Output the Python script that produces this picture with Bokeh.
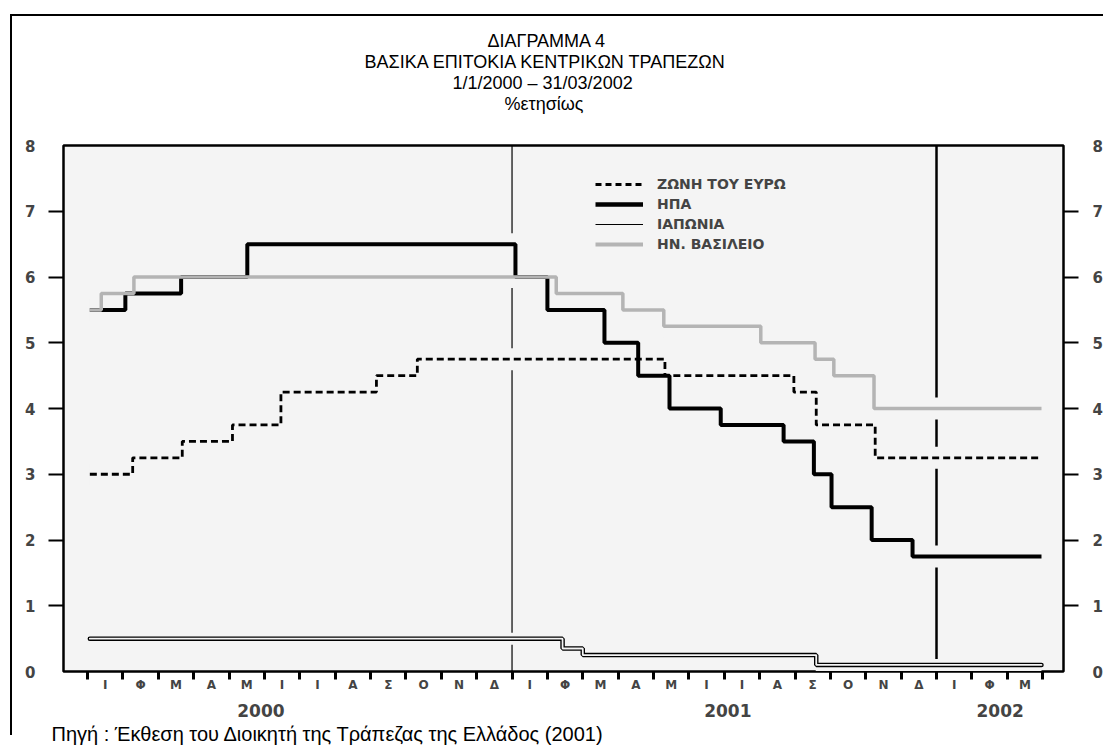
import calendar

from bokeh.plotting import figure
from bokeh.models import (Range1d, LinearAxis, FixedTicker, Span, Title,
                          Legend, LegendItem, GlobalInlineStyleSheet)
from bokeh.embed import file_html
from bokeh.resources import INLINE

# ---------------- data (policy rates, % per year) ----------------
euro_dates = ["2000-01-03", "2000-02-09", "2000-03-22", "2000-05-04", "2000-06-15",
              "2000-09-06", "2000-10-11", "2001-05-11", "2001-08-31", "2001-09-19",
              "2001-11-09", "2002-03-31"]
euro_rates = [3.00, 3.25, 3.50, 3.75, 4.25, 4.50, 4.75, 4.50, 4.25, 3.75, 3.25, 3.25]

us_dates = ["2000-01-03", "2000-02-03", "2000-03-21", "2000-05-17", "2001-01-04",
            "2001-02-01", "2001-03-20", "2001-04-18", "2001-05-15", "2001-06-28",
            "2001-08-22", "2001-09-17", "2001-10-02", "2001-11-06", "2001-12-11",
            "2002-03-31"]
us_rates = [5.50, 5.75, 6.00, 6.50, 6.00, 5.50, 5.00, 4.50, 4.00, 3.75,
            3.50, 3.00, 2.50, 2.00, 1.75, 1.75]

japan_dates = ["2000-01-03", "2001-02-13", "2001-03-01", "2001-09-19", "2002-03-31"]
japan_rates = [0.50, 0.35, 0.25, 0.10, 0.10]

uk_dates = ["2000-01-03", "2000-01-13", "2000-02-10", "2001-02-08", "2001-04-05",
            "2001-05-10", "2001-08-02", "2001-09-18", "2001-10-04", "2001-11-08",
            "2002-03-31"]
uk_rates = [5.50, 5.75, 6.00, 5.75, 5.50, 5.25, 5.00, 4.75, 4.50, 4.00, 4.00]

series_labels = ["ΖΩΝΗ ΤΟΥ ΕΥΡΩ", "ΗΠΑ", "ΙΑΠΩΝΙΑ", "ΗΝ. ΒΑΣΙΛΕΙΟ"]

month_letters = ["Ι", "Φ", "Μ", "Α", "Μ", "Ι", "Ι", "Α", "Σ", "Ο", "Ν", "Δ",
                 "Ι", "Φ", "Μ", "Α", "Μ", "Ι", "Ι", "Α", "Σ", "Ο", "Ν", "Δ",
                 "Ι", "Φ", "Μ"]
year_labels = ["2000", "2001", "2002"]
year_label_month = [4.9, 18.1, 25.8]       # month position under which each year is written
marker_dates = ["2001-01-01", "2002-01-01"]  # vertical year separators

y_ticks = [0, 1, 2, 3, 4, 5, 6, 7, 8]

title_lines = ["ΔΙΑΓΡΑΜΜΑ 4", "ΒΑΣΙΚΑ ΕΠΙΤΟΚΙΑ ΚΕΝΤΡΙΚΩΝ ΤΡΑΠΕΖΩΝ",
               "1/1/2000 – 31/03/2002", "%ετησίως"]
title_offsets = [424, 301, 389, 441]   # left-aligned offsets that centre each line
source_text = "Πηγή : Έκθεση του Διοικητή της Τράπεζας της Ελλάδος (2001)"


def month_index(s):
    """months elapsed since 1 Jan 2000 (fractional)."""
    y, m, d = (int(v) for v in s.split("-"))
    ndays = calendar.monthrange(y, m)[1]
    return (y - 2000) * 12 + (m - 1) + (d - 1) / ndays


BG = "#f4f4f4"
GREY = "#b4b4b4"
BOLD_FONT = "DejaVu Sans"
PLAIN_FONT = "Liberation Sans"
NAN = float("nan")

page_css = GlobalInlineStyleSheet(css="""
html, body { overflow: hidden; }
body::after { content: ''; position: absolute; left: 10px; top: 14px;
  width: calc(100% - 10px); height: 721px; box-sizing: border-box;
  border-left: 2px solid #000; border-top: 2px solid #000;
  pointer-events: none; z-index: 10; }
""")

p = figure(frame_width=1000, frame_height=526,
           x_range=Range1d(-0.68, 27.59), y_range=Range1d(0, 8),
           output_backend="svg", toolbar_location=None,
           x_axis_location=None, y_axis_location=None,
           min_border_left=63, min_border_right=40,
           min_border_top=145, min_border_bottom=70,
           background_fill_color=BG, border_fill_color="white",
           outline_line_color="black", outline_line_width=2.5)
p.xgrid.visible = False
p.ygrid.visible = False
p.stylesheets = [page_css]

# ---- vertical year separators (under the series) ----
p.add_layout(Span(location=month_index(marker_dates[0]), dimension="height",
                  line_color="black", line_width=1.2, level="underlay"))
p.add_layout(Span(location=month_index(marker_dates[1]), dimension="height",
                  line_color="black", line_width=2.5, level="underlay"))

ex = [month_index(d) for d in euro_dates]
ux = [month_index(d) for d in us_dates]
kx = [month_index(d) for d in uk_dates]
jx = [month_index(d) for d in japan_dates]

euro_style = dict(line_color="black", line_width=2.8, line_dash="7 4")
us_style = dict(line_color="black", line_width=4)
uk_style = dict(line_color=GREY, line_width=3.5)

# halos (the separators are interrupted where a series crosses them)
for sx, sy in ((ex, euro_rates), (ux, us_rates), (kx, uk_rates)):
    p.step(sx, sy, mode="after", line_color=BG, line_width=22)
p.step(jx, japan_rates, mode="after", line_color=BG, line_width=12)

# series
p.step(jx, japan_rates, mode="after", line_color="black", line_width=4.5, line_cap="round")
p.step(jx, japan_rates, mode="after", line_color=BG, line_width=1.8, line_cap="round")
p.step(ux, us_rates, mode="after", **us_style)
p.step(kx, uk_rates, mode="after", **uk_style)
p.step(ex, euro_rates, mode="after", **euro_style)

# legend swatches (no visible data)
lg_e = p.line([NAN], [NAN], line_color="black", line_width=3, line_dash="6 4")
lg_u = p.line([NAN], [NAN], line_color="black", line_width=4.5)
lg_j = p.line([NAN], [NAN], line_color="black", line_width=1)
lg_k = p.line([NAN], [NAN], line_color=GREY, line_width=4)
legend = Legend(items=[LegendItem(label=series_labels[0], renderers=[lg_e]),
                       LegendItem(label=series_labels[1], renderers=[lg_u]),
                       LegendItem(label=series_labels[2], renderers=[lg_j]),
                       LegendItem(label=series_labels[3], renderers=[lg_k])],
                location=(532, 417), padding=0, margin=0, spacing=0,
                glyph_width=48, glyph_height=20, label_height=20, label_standoff=14,
                label_text_font=BOLD_FONT, label_text_font_style="bold",
                label_text_font_size="14px", border_line_color=None,
                background_fill_alpha=0)
p.add_layout(legend)

# ---- axes ----
def hidden_labels(ticks):
    return {float(t): "" for t in ticks}

inner_ticks = y_ticks[1:-1]
for side, standoff in (("left", 7), ("right", 8)):
    ax = LinearAxis(ticker=FixedTicker(ticks=inner_ticks), major_tick_out=15, major_tick_in=0,
                    major_tick_line_width=2, minor_tick_line_color=None, axis_line_color=None,
                    major_label_overrides=hidden_labels(inner_ticks),
                    major_label_text_font_size="0px", major_label_standoff=0)
    p.add_layout(ax, side)
    ax = LinearAxis(ticker=FixedTicker(ticks=y_ticks), major_tick_line_color=None,
                    minor_tick_line_color=None, axis_line_color=None,
                    major_label_standoff=standoff,
                    major_label_text_font=BOLD_FONT, major_label_text_font_style="bold",
                    major_label_text_font_size="15px")
    p.add_layout(ax, side)

month_ticks = list(range(len(month_letters) + 1))
ax = LinearAxis(ticker=FixedTicker(ticks=month_ticks), major_tick_out=8, major_tick_in=0,
                major_tick_line_width=3, minor_tick_line_color=None, axis_line_color=None,
                major_label_overrides=hidden_labels(month_ticks),
                major_label_text_font_size="0px", major_label_standoff=0)
p.add_layout(ax, "below")
centers = [i + 0.5 for i in range(len(month_letters))]
ax = LinearAxis(ticker=FixedTicker(ticks=centers),
                major_label_overrides={c: t for c, t in zip(centers, month_letters)},
                major_tick_line_color=None, minor_tick_line_color=None, axis_line_color=None,
                major_label_standoff=-8, major_label_text_font=BOLD_FONT,
                major_label_text_font_style="bold", major_label_text_font_size="12px")
p.add_layout(ax, "below")
ax = LinearAxis(ticker=FixedTicker(ticks=year_label_month),
                major_label_overrides={c: t for c, t in zip(year_label_month, year_labels)},
                major_tick_line_color=None, minor_tick_line_color=None, axis_line_color=None,
                major_label_standoff=3, major_label_text_font=BOLD_FONT,
                major_label_text_font_style="bold", major_label_text_font_size="17px")
p.add_layout(ax, "below")

p.add_layout(Title(text=source_text, align="left", offset=-12, standoff=3,
                   text_font=PLAIN_FONT, text_font_style="normal",
                   text_font_size="20px", text_color="black"), "below")

# ---- title (added from the frame outwards; first one is an empty spacer) ----
p.add_layout(Title(text=" ", standoff=2, text_font_size="25px"), "above")
for line, off in reversed(list(zip(title_lines, title_offsets))):
    p.add_layout(Title(text=line, align="left", offset=off, standoff=-1,
                       text_font=PLAIN_FONT, text_font_style="normal",
                       text_font_size="18px", text_color="black"), "above")

open("out.html", "w").write(file_html(p, INLINE))
